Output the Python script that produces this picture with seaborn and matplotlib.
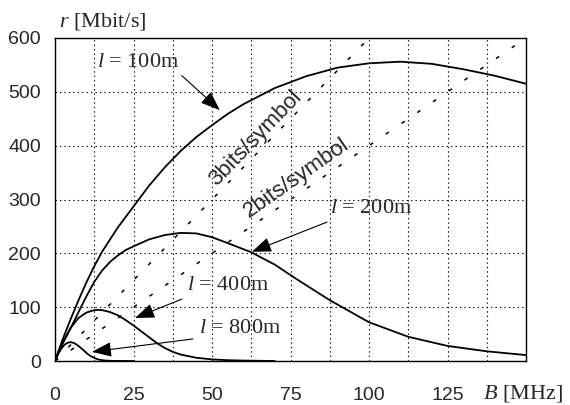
import numpy as np
import pandas as pd
import matplotlib
matplotlib.use("Agg")
import matplotlib.pyplot as plt
import seaborn as sns

# ---- data ----
B_100 = [0, 1, 2.5, 5, 7.5, 10, 12.5, 15, 20, 25, 30, 35, 40, 45, 50, 55, 60, 70, 80, 90, 100, 110, 120, 130, 140, 150]
r_100 = [0, 17, 41, 78, 113, 146, 176, 203, 248, 287, 326, 360, 390, 416, 438, 459, 477, 507, 529, 545, 553, 556, 552, 542, 530, 515]

B_200 = [0, 1, 2.5, 5, 7.5, 10, 12.5, 15, 17.5, 20, 22.5, 25, 30, 35, 40, 45, 50, 55, 62.5, 70, 77.5, 87.5, 100, 112.5, 125, 137.5, 150]
r_200 = [0, 14, 33, 61, 91, 120, 147, 168, 184, 196, 206, 213, 226, 234, 238, 237, 230, 219, 202, 179, 150, 113, 72, 45, 28, 18, 11]

B_400 = [0, 1, 2.5, 5, 7.5, 10, 12.5, 14, 15, 17.5, 20, 22.5, 25, 27.5, 30, 32.5, 35, 37.5, 40, 45, 50, 55, 60, 70]
r_400 = [0, 15, 35, 62, 80, 90, 94.5, 95, 94.5, 91, 85, 76, 66, 55, 44, 33, 24, 17, 12, 6, 3, 1.5, 0.8, 0]

B_800 = [0, 0.5, 1, 2, 3, 4, 5, 6, 7, 8, 9, 10, 11, 12, 13, 14, 16, 18, 20, 25]
r_800 = [0, 7, 13, 23, 30, 34, 35, 33.5, 30, 25.5, 20.5, 15, 10.5, 7, 4.5, 2.5, 0.8, 0.3, 0.1, 0]

B_3bit = [0, 100]
r_3bit = [0, 600]
B_2bit = [0, 150]
r_2bit = [0, 600]

x_ticks = [0, 25, 50, 75, 100, 125]
y_ticks = [0, 100, 200, 300, 400, 500, 600]

labels = ["$l$ = 100m", "$l$ = 200m", "$l$ = 400m", "$l$ = 800m"]

# ---- style ----
sns.set_style("white")
plt.rcParams['font.family'] = ['Liberation Sans', 'DejaVu Sans']
plt.rcParams['mathtext.fontset'] = 'custom'
plt.rcParams['mathtext.rm'] = 'Liberation Serif'
plt.rcParams['mathtext.it'] = 'Liberation Serif:italic'

fig = plt.figure(figsize=(5.7, 4.05), dpi=100)
ax = fig.add_axes([55/570, 1-361/405, (526-55)/570, (361-38)/405])

for Bs, rs in [(B_100, r_100), (B_200, r_200), (B_400, r_400), (B_800, r_800)]:
    sns.lineplot(x=Bs, y=rs, ax=ax, color='black', lw=1.3, sort=False, estimator=None)

for Bs, rs in [(B_3bit, r_3bit), (B_2bit, r_2bit)]:
    sns.lineplot(x=Bs, y=rs, ax=ax, color='black', lw=1.1, sort=False, estimator=None,
                 linestyle=(0, (2.5, 10)))

ax.set_xlim(0, 150)
ax.set_ylim(0, 600)
ax.set_xticks(x_ticks)
ax.set_xticks(np.arange(0, 150.1, 12.5), minor=True)
ax.set_yticks(y_ticks)
ax.set_xticklabels([str(t) for t in x_ticks])
ax.set_yticklabels([str(t) for t in y_ticks])
ax.tick_params(axis='both', which='both', length=0, labelsize=14)
ax.tick_params(axis='x', pad=19)
ax.tick_params(axis='y', pad=10)
ax.grid(True, which='both', color='black', lw=0.8, linestyle=(0, (1.2, 2.8)))
ax.set_axisbelow(True)
for s in ax.spines.values():
    s.set_color('black')
    s.set_linewidth(1.0)
ax.set_xlabel("")
ax.set_ylabel("")

serif = ['Liberation Serif', 'DejaVu Serif']
fig.text(59/570, 1-21/405, "$r$ [Mbit/s]", fontsize=16, family=serif, va='center', ha='left')
fig.text(483/570, 1-393/405, "$B$ [MHz]", fontsize=16, family=serif, va='center', ha='left')

text_pos = [(13.4, 554), (87.5, 284), (42, 141), (45.9, 61)]
arrows = [((40.4, 530), (52.5, 466)), ((86.6, 258), (62.7, 203)),
          ((40.4, 115), (25.5, 80)), ((43.9, 41), (11.8, 17))]
for lab, (tx, ty), (st, tip) in zip(labels, text_pos, arrows):
    ax.text(tx, ty, lab, fontsize=16, family=serif, ha='left', va='center')
    ax.annotate("", xy=tip, xytext=st,
                arrowprops=dict(arrowstyle="-|>,head_length=1.0,head_width=0.38",
                                mutation_scale=12, color='black', lw=0.8,
                                shrinkA=0, shrinkB=0))

ax.text(64, 414, "3bits/symbol", fontsize=16, rotation=46, ha='center', va='center',
        rotation_mode='anchor')
ax.text(77, 340, "2bits/symbol", fontsize=16, rotation=35, ha='center', va='center',
        rotation_mode='anchor')

fig.savefig("out.png", dpi=100)
